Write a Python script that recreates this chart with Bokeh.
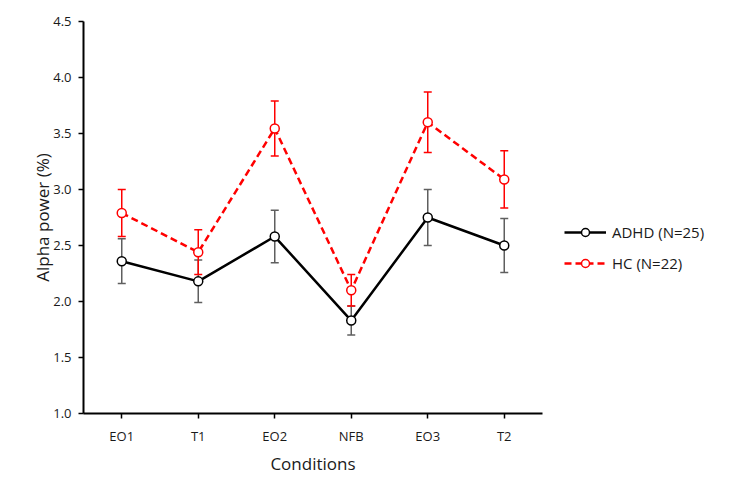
from bokeh.plotting import figure
from bokeh.layouts import row
from bokeh.models import (ColumnDataSource, FactorRange, Range1d, Whisker, TeeHead,
                          Legend, LegendItem, FixedTicker, CustomJSTickFormatter)
from bokeh.embed import file_html
from bokeh.resources import INLINE

conditions = ["EO1", "T1", "EO2", "NFB", "EO3", "T2"]
adhd_mean = [2.36, 2.18, 2.58, 1.83, 2.75, 2.50]
adhd_err = [0.20, 0.19, 0.235, 0.13, 0.25, 0.24]
hc_mean = [2.79, 2.44, 3.545, 2.10, 3.60, 3.09]
hc_err = [0.21, 0.20, 0.245, 0.14, 0.27, 0.255]
y_ticks = [1.0, 1.5, 2.0, 2.5, 3.0, 3.5, 4.0, 4.5]
labels = ["ADHD (N=25)", "HC (N=22)"]

FONT = "Open Sans"
TXT = "#1a1a1a"
GRAY = "#5f5f5f"
RED = "#ff0000"

p = figure(x_range=FactorRange(*conditions, range_padding=0),
           y_range=Range1d(1.0, 4.5),
           frame_width=459, frame_height=392,
           min_border_left=83, min_border_right=6,
           min_border_top=21, min_border_bottom=65,
           output_backend="svg", toolbar_location=None,
           background_fill_color="white", border_fill_color="white")
p.outline_line_color = None
p.grid.grid_line_color = None

adhd_src = ColumnDataSource(dict(x=conditions, y=adhd_mean,
                                 lo=[m - e for m, e in zip(adhd_mean, adhd_err)],
                                 hi=[m + e for m, e in zip(adhd_mean, adhd_err)]))
hc_src = ColumnDataSource(dict(x=conditions, y=hc_mean,
                               lo=[m - e for m, e in zip(hc_mean, hc_err)],
                               hi=[m + e for m, e in zip(hc_mean, hc_err)]))

w1 = Whisker(source=adhd_src, base="x", upper="hi", lower="lo",
             line_color=GRAY, line_width=1.5,
             upper_head=TeeHead(size=8, line_color=GRAY, line_width=1.5),
             lower_head=TeeHead(size=8, line_color=GRAY, line_width=1.5))
p.add_layout(w1)
p.line("x", "y", source=adhd_src, line_color="black", line_width=2.5)
p.scatter("x", "y", source=adhd_src, marker="circle", size=9,
          line_color="black", line_width=1.5, fill_color="white")

w2 = Whisker(source=hc_src, base="x", upper="hi", lower="lo",
             line_color=RED, line_width=1.5,
             upper_head=TeeHead(size=8, line_color=RED, line_width=1.5),
             lower_head=TeeHead(size=8, line_color=RED, line_width=1.5))
p.add_layout(w2)
p.line("x", "y", source=hc_src, line_color=RED, line_width=2.5, line_dash="7 4")
p.scatter("x", "y", source=hc_src, marker="circle", size=9,
          line_color=RED, line_width=1.5, fill_color="white")

for ax in (p.xaxis[0], p.yaxis[0]):
    ax.axis_line_color = "black"
    ax.axis_line_width = 2
    ax.major_tick_line_color = "black"
    ax.major_tick_line_width = 1.5
    ax.major_tick_out = 5
    ax.major_tick_in = 0
    ax.minor_tick_line_color = None
    ax.major_label_text_font = FONT
    ax.major_label_text_font_size = "13px"
    ax.major_label_text_color = TXT
    ax.axis_label_text_font = FONT
    ax.axis_label_text_font_size = "17px"
    ax.axis_label_text_font_style = "normal"
    ax.axis_label_text_color = TXT

p.yaxis.ticker = FixedTicker(ticks=y_ticks)
p.yaxis.formatter = CustomJSTickFormatter(code="return tick.toFixed(1);")
p.yaxis.axis_label = "Alpha power (%)"
p.yaxis.major_label_standoff = 7
p.yaxis.axis_label_standoff = -4
p.xaxis.axis_label = "Conditions"
p.xaxis.major_label_standoff = 8
p.xaxis.axis_label_standoff = 4

# Legend panel: a separate figure so the legend is not clipped by the plot frame.
# Its renderers hold the same series values, kept outside the visible range.
q = figure(width=171, height=478, x_range=Range1d(100, 101), y_range=Range1d(100, 101),
           x_axis_type=None, y_axis_type=None,
           min_border=0, output_backend="svg", toolbar_location=None,
           background_fill_color="white", border_fill_color="white")
q.outline_line_color = None
q.grid.grid_line_color = None
ql1 = q.line(x=list(range(len(adhd_mean))), y=adhd_mean, line_color="black", line_width=2.5)
qc1 = q.scatter(x=list(range(len(adhd_mean))), y=adhd_mean, marker="circle", size=7,
                line_color="black", line_width=1.5, fill_color="white")
ql2 = q.line(x=list(range(len(hc_mean))), y=hc_mean, line_color=RED, line_width=2.5,
             line_dash="7 4")
qc2 = q.scatter(x=list(range(len(hc_mean))), y=hc_mean, marker="circle", size=7,
                line_color=RED, line_width=1.5, fill_color="white")

legend = Legend(items=[LegendItem(label=labels[0], renderers=[ql1, qc1]),
                       LegendItem(label=labels[1], renderers=[ql2, qc2])],
                location=(16, 140), orientation="vertical",
                padding=0, margin=0, spacing=11,
                glyph_width=42, glyph_height=20, label_height=20,
                label_standoff=6,
                label_text_font=FONT, label_text_font_size="15px",
                label_text_color=TXT,
                border_line_color=None, background_fill_alpha=0)
q.add_layout(legend)

layout = row(p, q)
open("out.html", "w").write(file_html(layout, INLINE))
